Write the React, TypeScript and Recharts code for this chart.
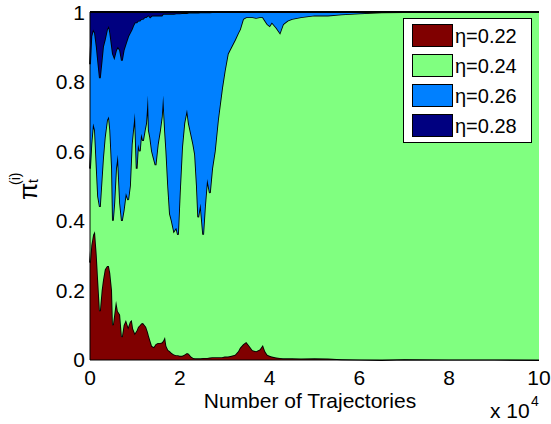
import { AreaChart, Area, XAxis, YAxis, Legend } from "recharts";

// x in units of 10^4 trajectories
const trajectories = [
  0, 0.03, 0.07, 0.11, 0.15, 0.18, 0.22, 0.26, 0.29, 0.33, 0.38, 0.42, 0.45, 0.49, 0.51, 0.54,
  0.58, 0.62, 0.67, 0.71, 0.75, 0.8, 0.85, 0.89, 0.93, 0.96, 1.0, 1.04, 1.07, 1.11, 1.14, 1.18,
  1.22, 1.25, 1.29, 1.31, 1.34, 1.38, 1.42, 1.46, 1.51, 1.56, 1.6, 1.63, 1.67, 1.7, 1.74, 1.78,
  1.82, 1.87, 1.92, 1.96, 2.0, 2.05, 2.1, 2.16, 2.2, 2.25, 2.3, 2.34, 2.38, 2.41, 2.46, 2.52,
  2.56, 2.61, 2.67, 2.72, 2.78, 2.85, 2.94, 3.0, 3.07, 3.15, 3.23, 3.3, 3.34, 3.41, 3.48, 3.55,
  3.62, 3.7, 3.78, 3.85, 3.9, 3.95, 4.0, 4.05, 4.15, 4.23, 4.3, 4.4, 4.5, 4.7, 5.0, 5.3, 5.6,
  6.0, 6.5, 7.0, 8.0, 9.0, 10.0,
];

// cumulative posterior: top edge of each coloured band
const upTo022 = [
  0.28, 0.33, 0.36, 0.37, 0.3, 0.23, 0.14, 0.2, 0.23, 0.26, 0.27, 0.27, 0.25, 0.2, 0.1, 0.13,
  0.17, 0.14, 0.13, 0.066, 0.1, 0.115, 0.095, 0.11, 0.115, 0.09, 0.077, 0.085, 0.095, 0.1, 0.105, 0.106,
  0.1, 0.095, 0.08, 0.07, 0.057, 0.04, 0.037, 0.045, 0.049, 0.049, 0.05, 0.055, 0.066, 0.04, 0.029, 0.025,
  0.02, 0.016, 0.014, 0.014, 0.012, 0.012, 0.015, 0.02, 0.018, 0.01, 0.006, 0.005, 0.005, 0.005, 0.005, 0.006,
  0.006, 0.006, 0.007, 0.008, 0.008, 0.008, 0.008, 0.01, 0.01, 0.012, 0.015, 0.025, 0.035, 0.045, 0.052, 0.04,
  0.028, 0.025, 0.03, 0.043, 0.025, 0.015, 0.012, 0.01, 0.007, 0.006, 0.005, 0.005, 0.005, 0.004, 0.005, 0.004, 0.002,
  0.001, 0, 0.002, 0.001, 0.001, 0,
];

const upTo024 = [
  0.55, 0.62, 0.68, 0.66, 0.55, 0.47, 0.44, 0.52, 0.58, 0.64, 0.69, 0.7, 0.66, 0.55, 0.4, 0.45,
  0.55, 0.59, 0.45, 0.4, 0.43, 0.48, 0.46, 0.5, 0.62, 0.66, 0.71, 0.55, 0.62, 0.6, 0.65, 0.63,
  0.66, 0.68, 0.76, 0.66, 0.64, 0.6, 0.58, 0.56, 0.62, 0.66, 0.7, 0.76, 0.66, 0.6, 0.5, 0.42,
  0.4, 0.37, 0.38, 0.36, 0.48, 0.61, 0.68, 0.72, 0.68, 0.65, 0.62, 0.59, 0.5, 0.41, 0.45, 0.36,
  0.44, 0.52, 0.48, 0.55, 0.6, 0.69, 0.78, 0.83, 0.88, 0.9, 0.92, 0.94, 0.95, 0.98, 0.985, 0.985,
  0.985, 0.983, 0.985, 0.985, 0.975, 0.965, 0.96, 0.97, 0.955, 0.94, 0.965, 0.975, 0.98, 0.985, 0.99, 0.99, 0.993,
  0.996, 0.999, 1, 1, 1, 1,
];

const upTo026 = [
  0.85, 0.93, 0.95, 0.94, 0.9, 0.86, 0.81, 0.86, 0.9, 0.92, 0.95, 0.96, 0.94, 0.9, 0.88, 0.87,
  0.89, 0.9, 0.89, 0.86, 0.89, 0.91, 0.93, 0.94, 0.95, 0.96, 0.97, 0.97, 0.975, 0.975, 0.98, 0.98,
  0.985, 0.985, 0.99, 0.99, 0.985, 0.99, 0.99, 0.99, 0.99, 0.99, 0.99, 0.995, 0.995, 0.995, 0.995, 0.995,
  0.995, 0.995, 0.996, 0.996, 0.996, 0.997, 0.997, 0.997, 0.998, 0.998, 0.998, 0.998, 0.998, 0.998, 0.999, 0.999,
  0.999, 0.999, 0.999, 1, 1, 1, 1, 1, 1, 1, 1, 1, 1, 1, 1, 1,
  1, 1, 1, 1, 1, 1, 1, 1, 1, 1, 1, 1, 1, 1, 1, 1, 1,
  1, 1, 1, 1, 1, 1,
];

const etaLabels = ["η=0.22", "η=0.24", "η=0.26", "η=0.28"];
const etaColors = ["#800000", "#80ff80", "#0080ff", "#000080"];
const xTicks = [0, 2, 4, 6, 8, 10];
const yTicks = [0, 0.2, 0.4, 0.6, 0.8, 1];

const data = trajectories.map((x, i) => ({
  x,
  p22: upTo022[i],
  p24: upTo024[i] - upTo022[i],
  p26: upTo026[i] - upTo024[i],
  p28: 1 - upTo026[i],
}));

const FONT = '"Liberation Sans", Arial, Helvetica, sans-serif';

const renderLegend = () => (
  <div
    style={{
      position: "relative",
      width: 129,
      height: 125,
      boxSizing: "border-box",
      border: "1px solid #000",
      background: "#fff",
      fontFamily: FONT,
    }}
  >
    {etaLabels.map((label, i) => (
      <div key={label} style={{ position: "absolute", left: 8, top: 5 + i * 30, height: 23 }}>
        <div
          style={{
            position: "absolute",
            left: 0,
            top: 0,
            width: 41,
            height: 23,
            boxSizing: "border-box",
            border: "1px solid #000",
            background: etaColors[i],
          }}
        />
        <span
          style={{
            position: "absolute",
            left: 43,
            top: 1,
            fontSize: 20,
            lineHeight: "23px",
            whiteSpace: "nowrap",
            color: "#000",
          }}
        >
          {label}
        </span>
      </div>
    ))}
  </div>
);

const XLabel = () => (
  <g fontFamily={FONT} fill="#000">
    <text x={310} y={408} fontSize={21} textAnchor="middle">
      Number of Trajectories
    </text>
    <text x={490} y={418} fontSize={21}>
      x 10
    </text>
    <text x={531} y={406} fontSize={14}>
      4
    </text>
  </g>
);

const YLabel = () => (
  <g transform="translate(37,200) rotate(-90)" fontFamily={FONT} fill="#000">
    <text x={0} y={0} fontSize={25}>
      π
    </text>
    <text x={17} y={1} fontSize={14}>
      t
    </text>
    <text x={15} y={-17} fontSize={14}>
      (i)
    </text>
  </g>
);

export default function App() {
  return (
    <div
      style={{
        position: "absolute",
        left: 0,
        top: 0,
        width: 551,
        height: 424,
        background: "#fff",
      }}
    >
      <AreaChart
        width={551}
        height={424}
        data={data}
        margin={{ top: 12, right: 12, left: 0, bottom: 0 }}
      >
        <Area type="linear" dataKey="p22" stackId="pi" fill={etaColors[0]} fillOpacity={1} stroke="#000" strokeWidth={1.8} isAnimationActive={false} />
        <Area type="linear" dataKey="p24" stackId="pi" fill={etaColors[1]} fillOpacity={1} stroke="#000" strokeWidth={1.8} isAnimationActive={false} />
        <Area type="linear" dataKey="p26" stackId="pi" fill={etaColors[2]} fillOpacity={1} stroke="#000" strokeWidth={1.8} isAnimationActive={false} />
        <Area type="linear" dataKey="p28" stackId="pi" fill={etaColors[3]} fillOpacity={1} stroke="#000" strokeWidth={1.8} isAnimationActive={false} />
        <XAxis
          dataKey="x"
          type="number"
          domain={[0, 10]}
          ticks={xTicks}
          height={64}
          tickLine={false}
          tickSize={0}
          tickMargin={10}
          axisLine={{ stroke: "#000" }}
          tick={{ fontSize: 21, fill: "#000", fontFamily: FONT }}
          label={{ content: XLabel }}
        />
        <XAxis
          xAxisId="top"
          orientation="top"
          dataKey="x"
          type="number"
          domain={[0, 10]}
          height={0}
          tick={false}
          tickLine={false}
          axisLine={{ stroke: "#000" }}
        />
        <YAxis
          type="number"
          domain={[0, 1]}
          ticks={yTicks}
          width={90}
          tickLine={false}
          tickSize={0}
          tickMargin={5}
          axisLine={{ stroke: "#000" }}
          tick={{ fontSize: 21, fill: "#000", fontFamily: FONT }}
          label={{ content: YLabel }}
        />
        <YAxis
          yAxisId="right"
          orientation="right"
          domain={[0, 1]}
          width={0}
          tick={false}
          tickLine={false}
          axisLine={{ stroke: "#000" }}
        />
        <Legend
          layout="vertical"
          align="center"
          verticalAlign="middle"
          content={renderLegend}
          wrapperStyle={{ left: 403, top: 18, width: 129, height: 125 }}
        />
      </AreaChart>
    </div>
  );
}
